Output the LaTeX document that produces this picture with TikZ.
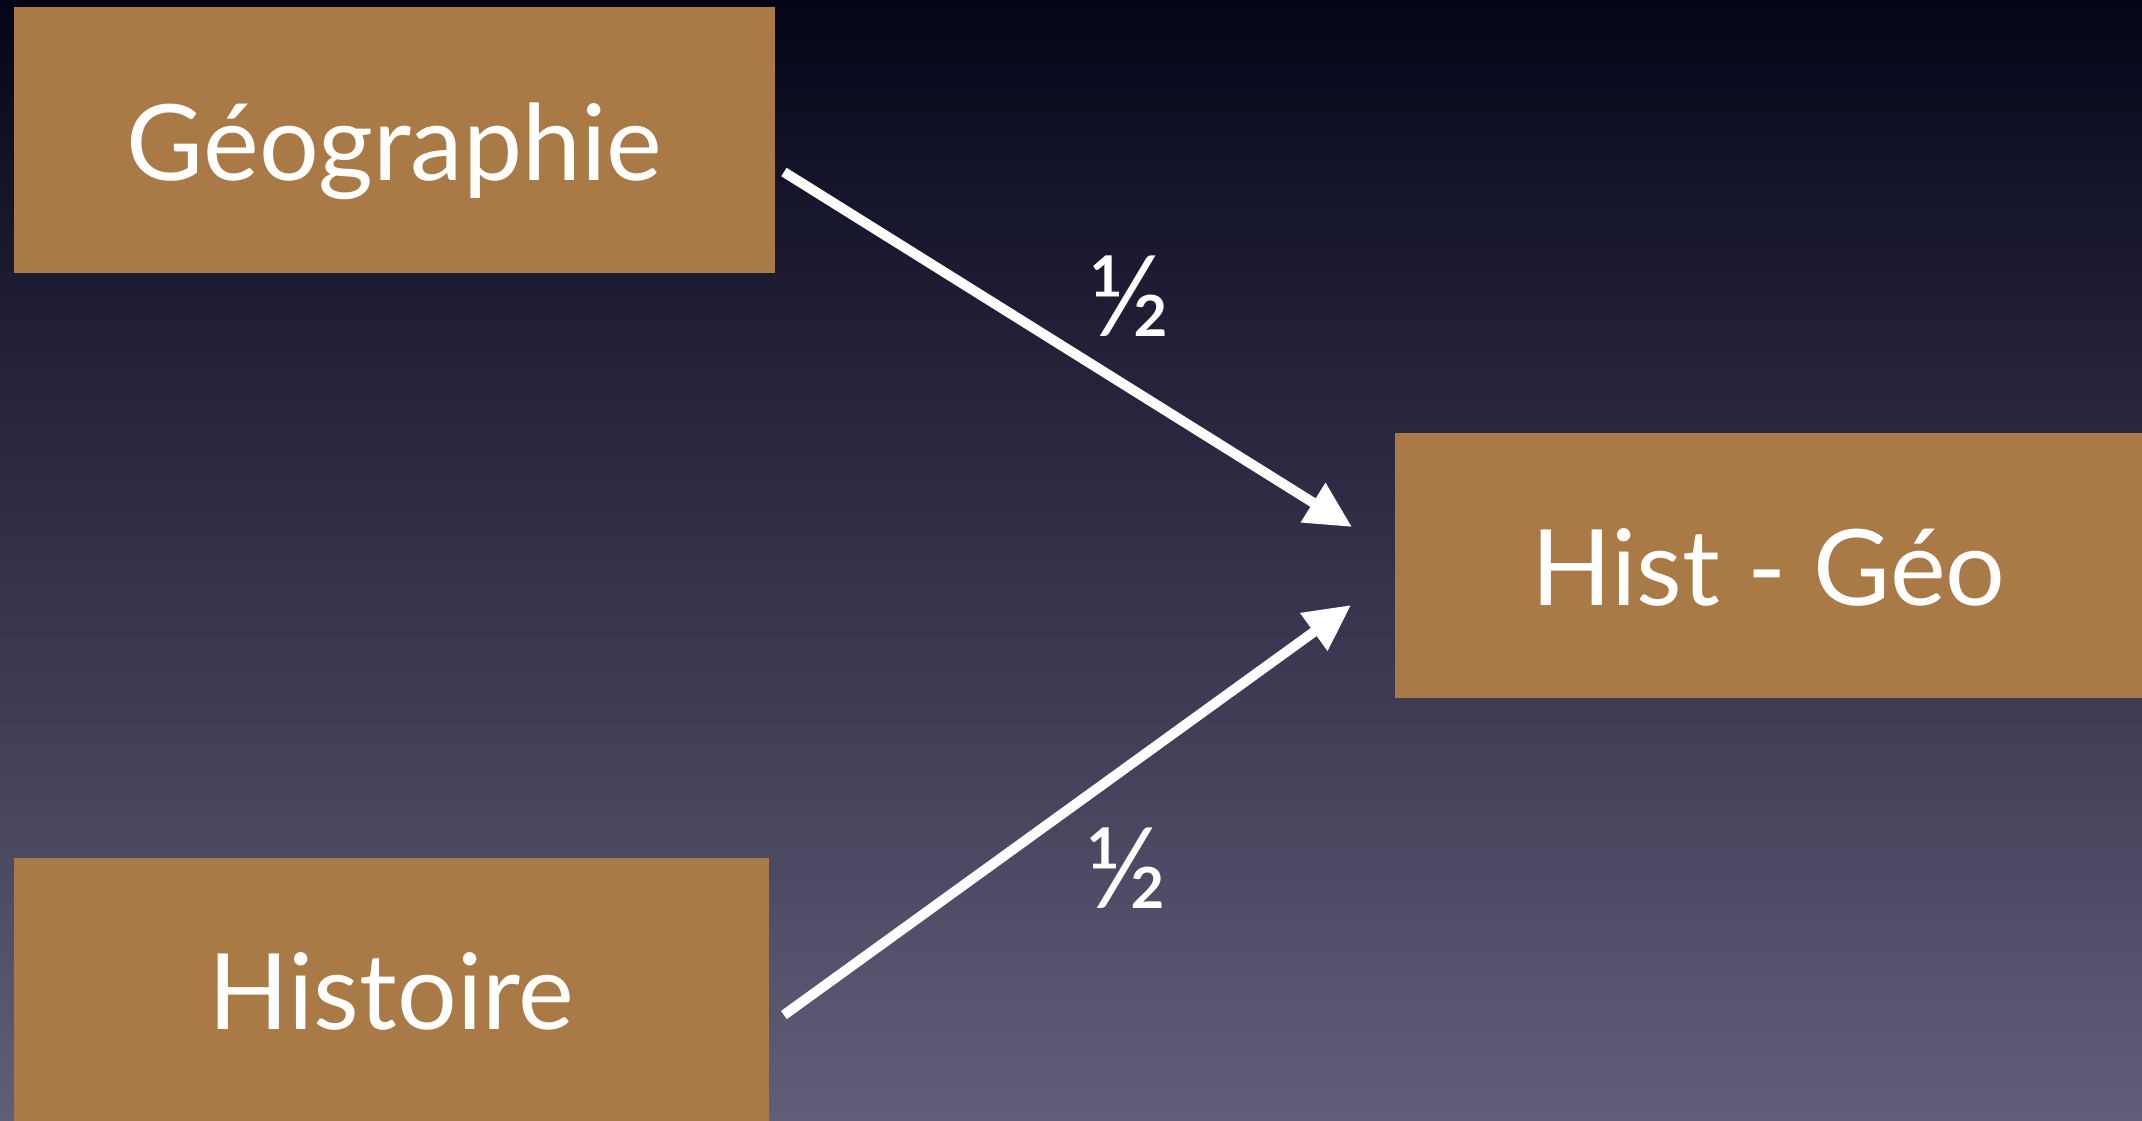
\documentclass[tikz,border=0pt]{standalone}
\usepackage{fontspec}
\setmainfont{Lato}
\usetikzlibrary{arrows.meta, positioning, calc}

\definecolor{topnavy}{HTML}{05051A}
\definecolor{bottomgrey}{HTML}{615E79}
\definecolor{boxbrown}{HTML}{A97A45}

\begin{document}
\begin{tikzpicture}[
    x=0.01cm, y=-0.01cm, % one unit = one pixel of the slide, y downwards
    >={Triangle[length=0.46cm, width=0.44cm]}, % Set default arrow tip style
    subject/.style={fill=boxbrown, text=white, font=\fontsize{30}{36}\selectfont, inner sep=0pt, text height=0.8cm, text depth=0pt}, % Style for the boxes
    link/.style={->, white, line width=0.1cm}, % Style for the arrows
    weight/.style={text=white, font=\fontsize{32}{38}\selectfont, inner sep=0pt} % Style for the 1/2 labels
]

    % Background
    \shade[top color=topnavy, bottom color=bottomgrey] (0,0) rectangle (2142,1121);
    \useasboundingbox (0,0) rectangle (2142,1121);

    % Boxes
    \node[subject, minimum width=7.61cm, minimum height=2.66cm] (geo) at (394.5,140) {Géographie};
    \node[subject, minimum width=7.55cm, minimum height=2.63cm] (hist) at (391.5,989.5) {Histoire};
    \node[subject, minimum width=7.47cm, minimum height=2.65cm] (histgeo) at (1768.5,565.5) {Hist - Géo};

    % Arrows with their weights
    \draw[link] ([xshift=0.08cm, yshift=-0.32cm]geo.east) -- ([xshift=-0.42cm, yshift=0.385cm]histgeo.west)
        node[weight, pos=0.5, xshift=0.61cm, yshift=0.53cm] (w1) {½};
    \draw[link] ([xshift=0.14cm, yshift=-0.255cm]hist.east) -- ([xshift=-0.43cm, yshift=-0.395cm]histgeo.west)
        node[weight, pos=0.5, xshift=0.59cm, yshift=-0.58cm] (w2) {½};

\end{tikzpicture}
\end{document}
